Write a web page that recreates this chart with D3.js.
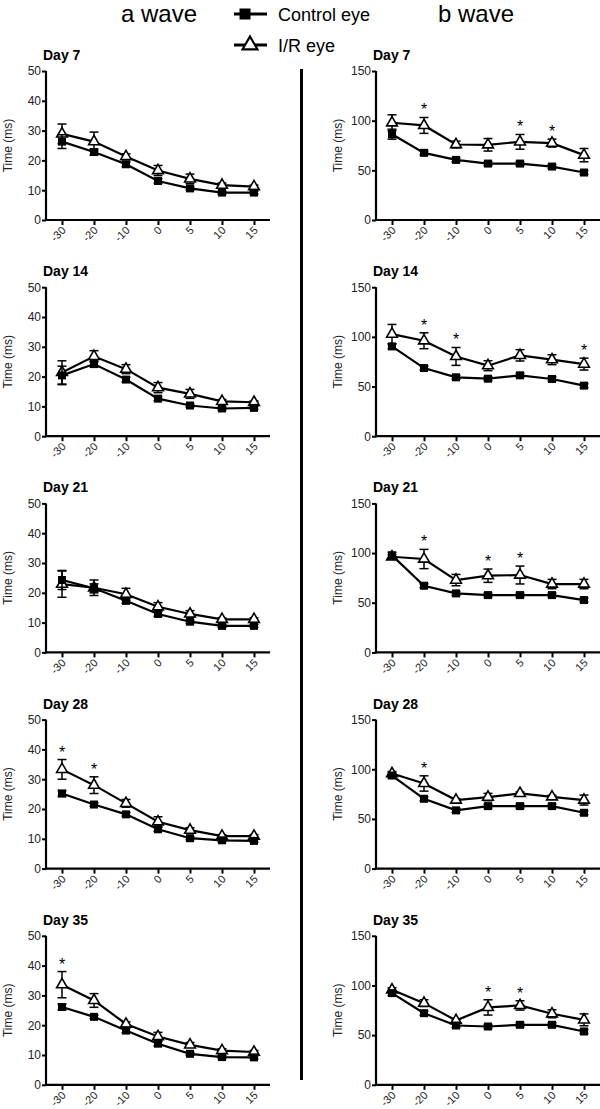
<!DOCTYPE html>
<html>
<head>
<meta charset="utf-8">
<script src="https://cdn.jsdelivr.net/npm/d3@7"></script>
<style>
  body { margin: 0; background: #fff; }
  svg { display: block; font-family: "Liberation Sans", Arial, sans-serif; }
</style>
</head>
<body>
<svg width="600" height="1109"></svg>
<script>
// Time points (x categories) and panel labels
const timePoints = ["-30", "-20", "-10", "0", "5", "10", "15"];
const days = ["Day 7", "Day 14", "Day 21", "Day 28", "Day 35"];

// a wave (ms), one row per day
const aControlMean = [
  [26.3, 22.8, 18.7, 13.1, 10.6, 9.2, 9.2],
  [20.4, 24.2, 19.0, 12.6, 10.3, 9.3, 9.5],
  [24.3, 21.5, 17.3, 12.9, 10.3, 8.9, 8.9],
  [25.2, 21.5, 18.2, 13.2, 10.2, 9.5, 9.3],
  [26.1, 22.8, 18.2, 13.8, 10.4, 9.3, 9.2]
];
const aControlSem = [
  [2.3, 1.0, 0.8, 0.8, 0.6, 0.5, 0.5],
  [3.1, 1.0, 0.8, 0.7, 0.5, 0.5, 0.5],
  [3.2, 1.5, 0.8, 0.8, 0.6, 0.5, 0.5],
  [1.0, 0.6, 0.6, 0.7, 0.5, 0.5, 0.5],
  [1.0, 0.6, 0.7, 0.7, 0.5, 0.5, 0.5]
];
const aIrMean = [
  [28.9, 26.3, 21.3, 16.6, 13.8, 11.7, 11.2],
  [21.4, 26.8, 22.5, 16.3, 14.2, 11.7, 11.4],
  [22.9, 21.7, 19.5, 15.3, 12.9, 11.1, 11.1],
  [33.3, 28.0, 21.9, 15.7, 12.9, 10.9, 10.9],
  [33.6, 28.3, 20.4, 16.2, 13.4, 11.5, 11.0]
];
const aIrSem = [
  [3.3, 3.2, 0.9, 1.7, 1.6, 0.7, 0.5],
  [3.9, 1.9, 1.5, 1.7, 1.5, 0.6, 0.4],
  [4.4, 2.6, 2.0, 1.4, 1.1, 0.5, 0.5],
  [3.3, 2.8, 1.3, 1.7, 0.8, 0.5, 0.5],
  [4.4, 2.3, 0.7, 1.4, 0.8, 0.6, 0.5]
];
const aStars = [[], [], [], [0, 1], [0]];

// b wave (ms), one row per day
const bControlMean = [
  [86.4, 67.6, 60.5, 56.8, 56.8, 53.8, 47.8],
  [90.4, 68.6, 59.3, 57.9, 61.3, 57.6, 50.9],
  [97.7, 67.1, 59.4, 57.7, 57.7, 57.7, 52.7],
  [93.7, 70.3, 58.6, 62.9, 62.9, 62.9, 56.2],
  [92.3, 72.1, 59.7, 58.7, 60.4, 60.4, 53.7]
];
const bControlSem = [
  [5.0, 2.0, 2.0, 2.0, 2.0, 2.0, 2.0],
  [2.5, 2.0, 2.0, 2.0, 2.0, 2.0, 2.0],
  [3.0, 2.0, 2.0, 2.0, 2.0, 2.0, 2.0],
  [2.5, 2.0, 2.0, 2.0, 2.0, 2.0, 2.0],
  [2.5, 2.0, 2.0, 2.0, 2.0, 2.0, 2.0]
];
const bIrMean = [
  [97.9, 95.2, 76.0, 75.7, 78.7, 77.4, 65.3],
  [102.8, 96.1, 80.3, 71.0, 81.4, 77.0, 72.6],
  [96.3, 94.0, 72.8, 77.2, 77.9, 68.8, 68.8],
  [95.7, 85.7, 69.0, 72.0, 75.7, 72.3, 69.0],
  [95.6, 82.2, 64.8, 77.9, 79.9, 71.5, 65.4]
];
const bIrSem = [
  [8.0, 8.0, 3.4, 6.3, 7.4, 4.0, 6.7],
  [9.7, 8.0, 9.0, 5.0, 5.7, 5.0, 6.0],
  [2.0, 9.7, 5.7, 6.7, 9.0, 4.7, 4.7],
  [2.0, 7.7, 1.5, 3.7, 1.5, 1.5, 5.0],
  [2.0, 3.4, 1.5, 7.7, 4.7, 4.0, 6.0]
];
const bStars = [[1, 4, 5], [1, 2, 6], [1, 3, 4], [1], [3, 4]];

const aTicks = [0, 10, 20, 30, 40, 50];
const bTicks = [0, 50, 100, 150];

const svg = d3.select("svg");
const plotH = 149;
const panelTop = (i) => 71 + i * 216.2;

const columns = [
  { x0: 46, x1: 270, max: 50, ticks: aTicks, cm: aControlMean, cs: aControlSem, im: aIrMean, is: aIrSem, stars: aStars },
  { x0: 376, x1: 600, max: 150, ticks: bTicks, cm: bControlMean, cs: bControlSem, im: bIrMean, is: bIrSem, stars: bStars }
];

const triangle = d3.symbol(d3.symbolTriangle, 50);
const bigTriangle = d3.symbol(d3.symbolTriangle, 95);

function drawSeries(g, x, y, means, sems, kind) {
  const pts = timePoints.map((t, j) => ({ t, v: means[j], e: sems[j] }));

  // error bars with caps
  const eb = g.append("g").attr("stroke", "#000").attr("stroke-width", 1.5);
  pts.forEach((p) => {
    const cx = x(p.t);
    eb.append("line").attr("x1", cx).attr("x2", cx).attr("y1", y(p.v - p.e)).attr("y2", y(p.v + p.e));
    [p.v - p.e, p.v + p.e].forEach((v) => {
      eb.append("line").attr("x1", cx - 4.5).attr("x2", cx + 4.5).attr("y1", y(v)).attr("y2", y(v));
    });
  });

  g.append("path")
    .datum(pts)
    .attr("fill", "none")
    .attr("stroke", "#000")
    .attr("stroke-width", 2.2)
    .attr("d", d3.line().x((d) => x(d.t)).y((d) => y(d.v)));

  if (kind === "square") {
    g.selectAll(null)
      .data(pts)
      .enter()
      .append("rect")
      .attr("x", (d) => x(d.t) - 4)
      .attr("y", (d) => y(d.v) - 4)
      .attr("width", 8)
      .attr("height", 8)
      .attr("fill", "#000");
  } else {
    g.selectAll(null)
      .data(pts)
      .enter()
      .append("path")
      .attr("d", triangle)
      .attr("transform", (d) => `translate(${x(d.t)},${y(d.v)})`)
      .attr("fill", "#fff")
      .attr("stroke", "#000")
      .attr("stroke-width", 1.6);
  }
}

columns.forEach((col) => {
  const x = d3.scalePoint().domain(timePoints).range([col.x0, col.x1]).padding(0.5);

  days.forEach((day, i) => {
    const top = panelTop(i);
    const y = d3.scaleLinear().domain([0, col.max]).range([top + plotH, top]);
    const g = svg.append("g");

    // y axis
    const ya = g.append("g")
      .attr("transform", `translate(${col.x0},0)`)
      .call(d3.axisLeft(y).tickValues(col.ticks).tickSize(4).tickPadding(1));
    ya.select(".domain").attr("stroke-width", 2.2).attr("d", `M0,${top + plotH + 1}V${top}`);
    ya.selectAll(".tick line").attr("stroke-width", 2);
    ya.selectAll(".tick text").attr("font-size", 12).attr("fill", "#222").attr("font-family", "Liberation Sans, Arial, sans-serif");

    // x axis
    const xa = g.append("g")
      .attr("transform", `translate(0,${top + plotH})`)
      .call(d3.axisBottom(x).tickSize(5).tickSizeOuter(0));
    xa.select(".domain").attr("stroke-width", 2.2).attr("d", `M${col.x0 - 1},0H${col.x1}`);
    xa.selectAll(".tick line").attr("stroke-width", 2);
    xa.selectAll(".tick text")
      .attr("font-size", 11)
      .attr("fill", "#222")
      .attr("font-family", "Liberation Sans, Arial, sans-serif")
      .attr("text-anchor", "end")
      .attr("dy", null)
      .attr("y", 0)
      .attr("transform", "translate(4,11) rotate(-45)");

    // titles
    g.append("text")
      .attr("x", col.x0 - 3)
      .attr("y", top - 11)
      .attr("font-size", 14)
      .attr("font-weight", "bold")
      .text(day);

    g.append("text")
      .attr("transform", `translate(${col.x0 - 34},${top + plotH / 2}) rotate(-90)`)
      .attr("text-anchor", "middle")
      .attr("font-size", 12)
      .attr("fill", "#222")
      .text("Time (ms)");

    drawSeries(g, x, y, col.im[i], col.is[i], "triangle");
    drawSeries(g, x, y, col.cm[i], col.cs[i], "square");

    // significance stars
    g.selectAll(null)
      .data(col.stars[i])
      .enter()
      .append("text")
      .attr("x", (j) => x(timePoints[j]))
      .attr("y", (j) => y(col.im[i][j] + col.is[i][j]) - 2)
      .attr("text-anchor", "middle")
      .attr("font-size", 16)
      .attr("fill", "#000")
      .text("*");
  });
});

// column headings
svg.append("text").attr("x", 159).attr("y", 22).attr("text-anchor", "middle").attr("font-size", 24).text("a wave");
svg.append("text").attr("x", 476).attr("y", 22).attr("text-anchor", "middle").attr("font-size", 24).text("b wave");

// divider
svg.append("line")
  .attr("x1", 301.5).attr("x2", 301.5)
  .attr("y1", 69).attr("y2", 1080)
  .attr("stroke", "#000").attr("stroke-width", 3);

// legend
const legend = svg.append("g");
const legendItems = [
  { label: "Control eye", kind: "square", y: 14 },
  { label: "I/R eye", kind: "triangle", y: 45 }
];
legendItems.forEach((d) => {
  legend.append("line")
    .attr("x1", 234).attr("x2", 267).attr("y1", d.y).attr("y2", d.y)
    .attr("stroke", "#000").attr("stroke-width", 3);
  if (d.kind === "square") {
    legend.append("rect").attr("x", 245 - 5.5).attr("y", d.y - 5.5).attr("width", 11).attr("height", 11).attr("fill", "#000");
  } else {
    legend.append("path").attr("d", bigTriangle).attr("transform", `translate(250,${d.y})`)
      .attr("fill", "#fff").attr("stroke", "#000").attr("stroke-width", 2.2);
  }
  legend.append("text").attr("x", 278).attr("y", d.y + 7).attr("font-size", 18).text(d.label);
});
</script>
</body>
</html>
